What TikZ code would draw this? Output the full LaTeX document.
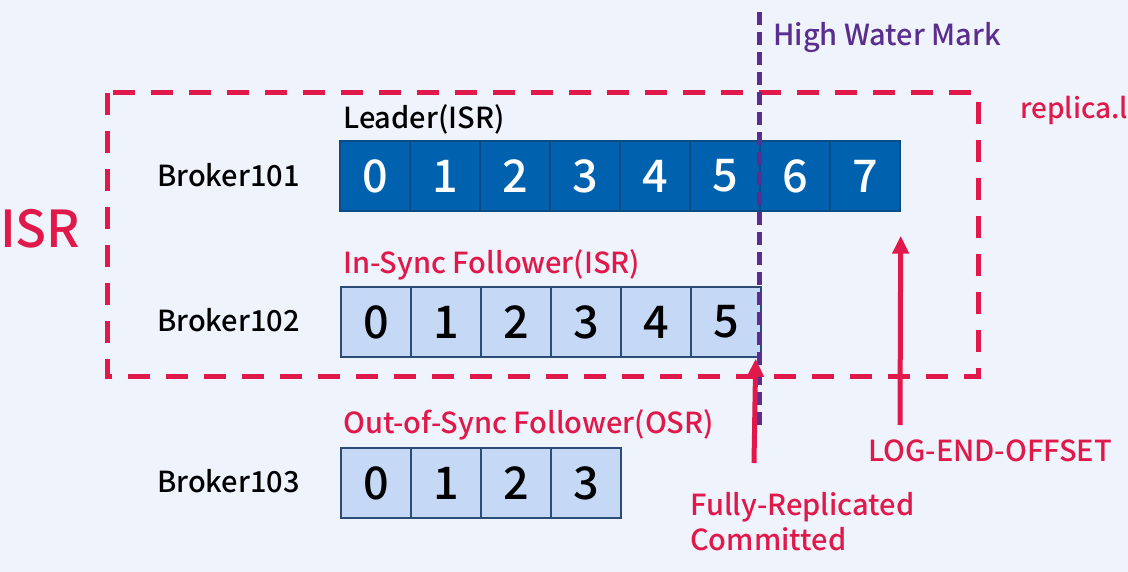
\documentclass[tikz,border=0pt]{standalone}
\usepackage{fontspec}
\setmainfont{Noto Sans CJK KR Medium}
\usetikzlibrary{arrows.meta}
\definecolor{bg}{HTML}{EEF3FC}
\definecolor{isrred}{HTML}{E0194A}
\definecolor{hwm}{HTML}{5B2D8E}
\definecolor{dark}{HTML}{0062AE}
\definecolor{darkb}{HTML}{0B4C86}
\definecolor{light}{HTML}{C5D9F7}
\definecolor{lightb}{HTML}{2B4C75}
\begin{document}
\begin{tikzpicture}[x=1pt,y=-1pt,
  cellbase/.style={minimum width=70pt,minimum height=70pt,inner sep=0pt,line width=1.4pt,
    font=\fontsize{45}{45}\selectfont},
  darkcell/.style={cellbase,fill=dark,draw=darkb,text=white},
  lightcell/.style={cellbase,fill=light,draw=lightb,text=black},
  lbl/.style={anchor=west,inner sep=0pt,font=\fontsize{29}{34}\selectfont},
  redlbl/.style={lbl,text=isrred},
  redbox/.style={draw=isrred,line width=5pt,dash pattern=on 22pt off 16pt},
  hwmline/.style={draw=hwm,line width=5pt,dash pattern=on 13pt off 7pt},
  redarrow/.style={draw=isrred,line width=5pt,-{Triangle[length=18pt,width=16pt]}}]
\fill[bg] (0,0) rectangle (1128,572);
\useasboundingbox (0,0) rectangle (1128,572);

% cells
\foreach \i in {0,...,7} \node[darkcell] (L\i) at (375+70*\i,176) {\i};
\foreach \i in {0,...,5} \node[lightcell] (F\i) at (376+70*\i,322) {\i};
\foreach \i in {0,...,3} \node[lightcell] (O\i) at (376+70*\i,483) {\i};

% ISR box
\draw[redbox] (107,93) rectangle (978,376);

% labels
\node[lbl] (lead) at (343,119) {Leader(ISR)};
\node[redlbl] (insync) at (343,265) {In-Sync Follower(ISR)};
\node[redlbl] (outsync) at (343,425) {Out-of-Sync Follower(OSR)};
\node[lbl] (b1) at (157,175) {Broker101};
\node[lbl] (b2) at (157,320) {Broker102};
\node[lbl] (b3) at (157,481) {Broker103};
\node[redlbl,font=\fontsize{51}{56}\selectfont] (isr) at (0,229) {ISR};
\node[lbl,text=hwm] (hwmtxt) at (773,38) {High Water Mark};
\node[redlbl,font=\fontsize{28}{34}\selectfont] (replica) at (1020,110) {replica.l};
\node[redlbl] (leo) at (868,451) {LOG-END-OFFSET};
\node[redlbl,anchor=north west,align=left,font=\fontsize{29}{35}\selectfont] (fr) at (690,492) {Fully-Replicated\\Committed};

% high water mark line
\coordinate (hwmtop) at (759,12);
\coordinate (hwmbot) at (759,425);
\draw[hwmline] (hwmtop) -- (hwmbot);

% arrows
\coordinate (frstart) at (754,463);
\coordinate (leostart) at (900,425);
\draw[redarrow] (frstart) -- ([xshift=-6pt,yshift=-1pt]F5.south east);
\draw[redarrow] (leostart) -- ([yshift=-24pt]L7.south east);
\end{tikzpicture}
\end{document}
